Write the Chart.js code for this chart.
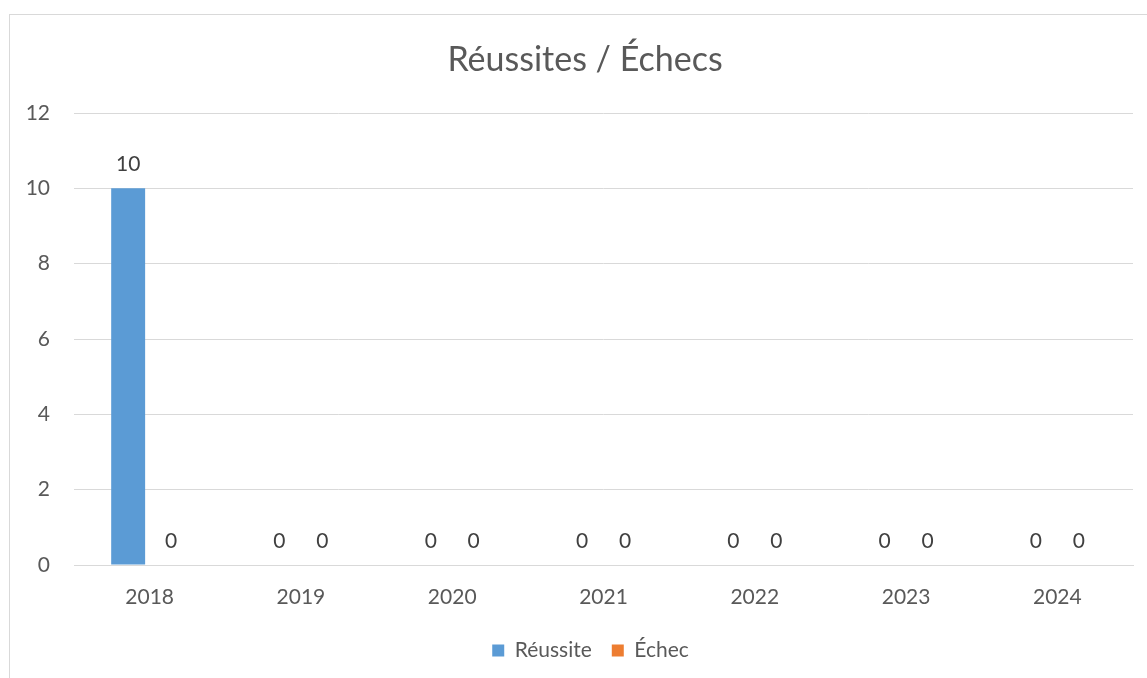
<!DOCTYPE html>
<html><head><meta charset="utf-8">
<script src="https://cdn.jsdelivr.net/npm/chart.js@4"></script>
<style>html,body{margin:0;padding:0;background:#fff;}#wrap{width:1147px;height:678px;position:relative;}</style>
</head><body><div id="wrap"><canvas id="c" width="1147" height="678"></canvas></div>
<script>
const chartTitle = "Réussites / Échecs";
const years = ["2018","2019","2020","2021","2022","2023","2024"];
const reussite = [10,0,0,0,0,0,0];
const echec = [0,0,0,0,0,0,0];
const yTicks = [0,2,4,6,8,10,12];

const FONT = "Lato";
const GRAY = "#595959";

const framePlugin = {
  id: 'frame',
  beforeDraw(chart){
    const ctx = chart.ctx;
    if (chart.legend && !chart.legend._shifted) {
      chart.legend.left += 24; chart.legend.right += 24; chart.legend._shifted = true;
    }
    ctx.save();
    ctx.fillStyle = '#fff';
    ctx.fillRect(0,0,chart.width,chart.height);
    ctx.strokeStyle = '#d9d9d9';
    ctx.lineWidth = 1;
    ctx.strokeRect(9.5,14.5,1300,800);
    ctx.fillStyle = GRAY;
    ctx.font = "34px " + FONT;
    ctx.textAlign = 'center';
    ctx.textBaseline = 'middle';
    ctx.fillText(chartTitle, 585, 60);
    ctx.restore();
  }
};
const labelPlugin = {
  id: 'vals',
  afterDatasetsDraw(chart){
    const ctx = chart.ctx;
    ctx.save();
    ctx.fillStyle = '#404040';
    ctx.font = "21px " + FONT;
    ctx.textAlign = 'center';
    ctx.textBaseline = 'alphabetic';
    chart.data.datasets.forEach((ds,i)=>{
      chart.getDatasetMeta(i).data.forEach((el,j)=>{
        ctx.fillText(String(ds.data[j]), el.x, el.y - 17);
      });
    });
    ctx.restore();
  }
};

new Chart(document.getElementById('c'), {
  type: 'bar',
  data: {
    labels: years,
    datasets: [
      {label: 'Réussite', data: reussite, backgroundColor: '#5B9BD5', categoryPercentage: 0.568, barPercentage: 0.79},
      {label: 'Échec', data: echec, backgroundColor: '#ED7D31', categoryPercentage: 0.568, barPercentage: 0.79}
    ]
  },
  options: {
    responsive: false,
    animation: false,
    devicePixelRatio: 1,
    layout: {padding: {top: 113, left: 0, right: 14, bottom: 7}},
    plugins: {
      title: {display: false},
      tooltip: {enabled: false},
      legend: {
        position: 'bottom',
        labels: {boxWidth: 12, boxHeight: 12, color: GRAY, font: {family: FONT, size: 21}, padding: 20}
      }
    },
    scales: {
      x: {
        grid: {display: false, drawTicks: false},
        border: {color: '#d9d9d9'},
        ticks: {color: GRAY, font: {family: FONT, size: 21}, padding: 20},
        afterFit(s){ s.height = 55; }
      },
      y: {
        min: 0, max: 12,
        afterBuildTicks(s){ s.ticks = yTicks.map(v=>({value:v})); },
        grid: {color: '#d9d9d9', drawTicks: false},
        border: {display: false},
        ticks: {color: GRAY, font: {family: FONT, size: 21}, padding: 24},
        afterFit(s){ s.width = 74; }
      }
    }
  },
  plugins: [framePlugin, labelPlugin]
});
</script></body></html>
